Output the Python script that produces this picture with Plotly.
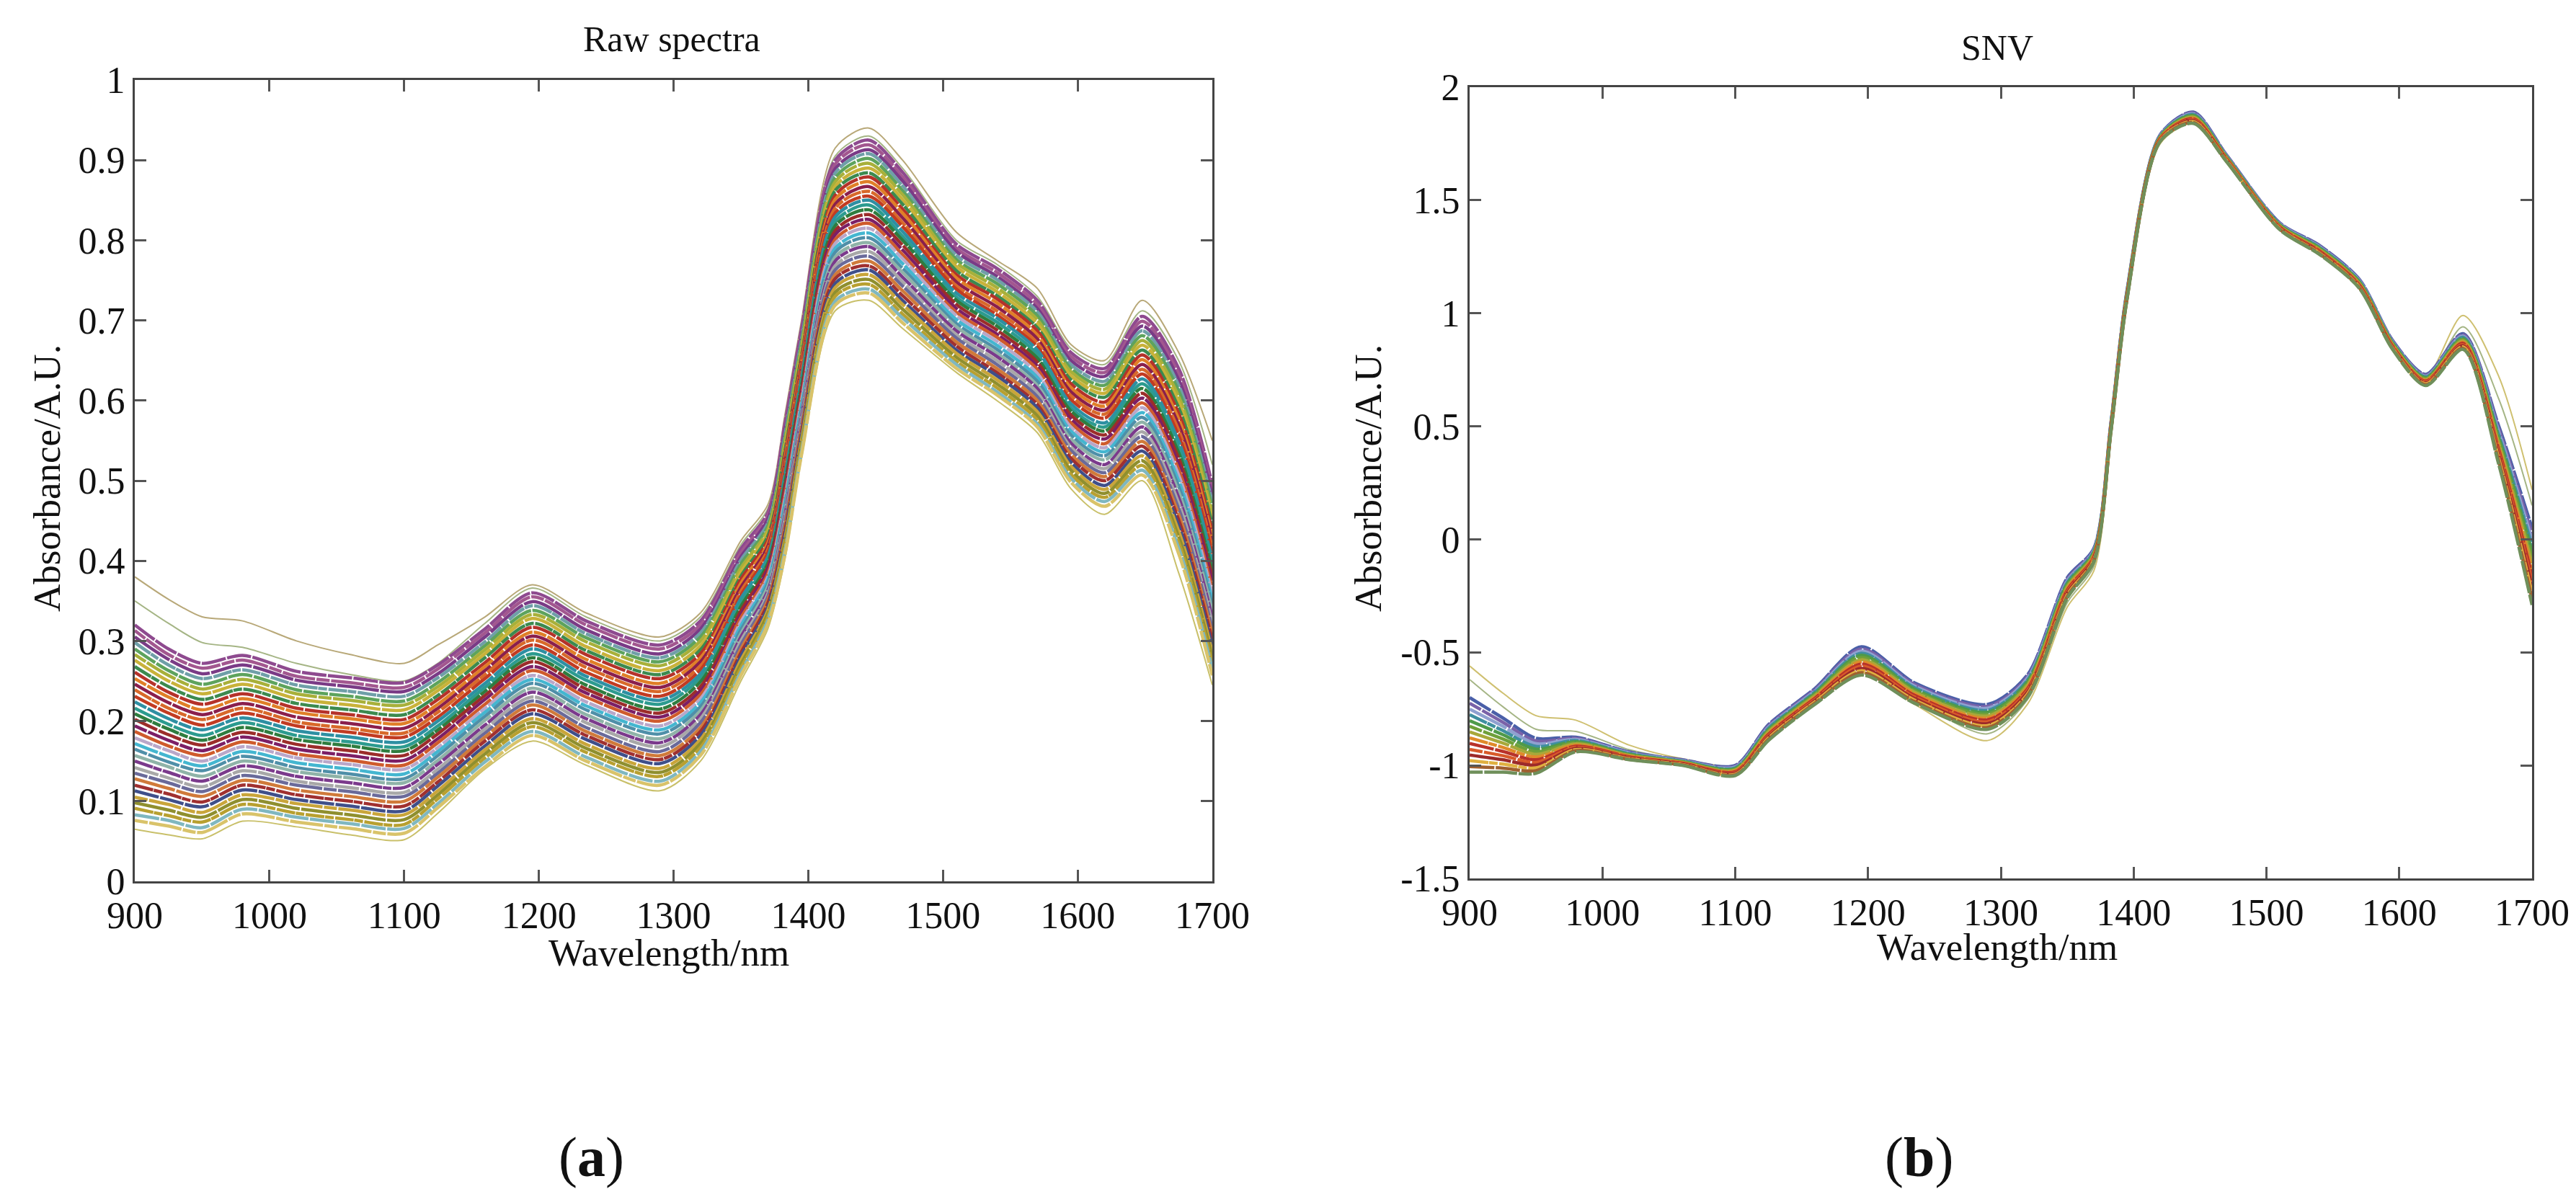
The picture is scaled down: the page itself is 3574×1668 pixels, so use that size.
import plotly.graph_objects as go

# Wavelength knots the curves were read at
wavelength = [900, 925, 950, 980, 1020, 1060, 1100, 1125, 1160, 1195, 1235, 1290, 1320, 1350,
              1370, 1383, 1395, 1420, 1445, 1470, 1510, 1540, 1570, 1595, 1620, 1648, 1675, 1700]

# Raw spectra: the outer curves are read from the picture. Single curves inside the
# dense band can't be told apart, so those rows are estimates spaced across the band.
raw_top1 = [.380, .352, .330, .325, .300, .283, .272, .295, .330, .370, .335, .305, .335, .425, .470, .585, .700, .915, .940, .900, .810, .775, .740, .670, .650, .725, .660, .550]
raw_top2 = [.350, .322, .298, .292, .272, .258, .250, .272, .322, .366, .330, .300, .330, .420, .465, .580, .695, .905, .930, .890, .800, .770, .730, .665, .645, .712, .650, .520]
raw_low1 = [.065, .058, .053, .075, .068, .058, .052, .085, .140, .175, .145, .113, .150, .250, .315, .405, .528, .712, .725, .690, .635, .600, .560, .490, .458, .500, .385, .245]
raw_01 = [.320, .290, .272, .282, .262, .254, .248, .270, .315, .360, .325, .295, .325, .415, .460, .575, .690, .900, .925, .885, .795, .765, .725, .660, .640, .705, .640, .495]
raw_02 = [.313, .283, .266, .276, .256, .248, .242, .265, .310, .355, .320, .290, .320, .410, .456, .570, .685, .895, .919, .879, .790, .760, .720, .655, .635, .699, .633, .488]
raw_03 = [.305, .277, .259, .270, .251, .243, .237, .259, .305, .349, .314, .284, .315, .405, .452, .565, .680, .889, .913, .874, .786, .755, .715, .650, .630, .693, .626, .481]
raw_04 = [.298, .270, .253, .264, .245, .237, .231, .254, .299, .344, .309, .279, .310, .401, .447, .560, .676, .884, .908, .868, .781, .751, .711, .645, .624, .687, .619, .473]
raw_05 = [.290, .263, .246, .258, .239, .231, .225, .248, .294, .338, .304, .274, .305, .396, .443, .555, .671, .878, .902, .862, .776, .746, .706, .640, .619, .681, .612, .466]
raw_06 = [.283, .257, .240, .252, .234, .226, .220, .243, .289, .333, .299, .269, .300, .391, .439, .550, .666, .873, .896, .857, .772, .741, .701, .636, .614, .675, .605, .459]
raw_07 = [.276, .250, .234, .246, .228, .220, .214, .238, .284, .328, .293, .263, .294, .386, .435, .545, .661, .867, .890, .851, .767, .736, .696, .631, .609, .669, .598, .452]
raw_08 = [.268, .243, .227, .240, .222, .214, .208, .232, .279, .322, .288, .258, .289, .381, .431, .540, .656, .862, .884, .845, .762, .731, .691, .626, .604, .663, .591, .445]
raw_09 = [.261, .236, .221, .234, .216, .208, .202, .227, .273, .317, .283, .253, .284, .377, .426, .535, .652, .856, .879, .839, .757, .727, .687, .621, .598, .657, .584, .437]
raw_10 = [.253, .230, .214, .228, .211, .203, .197, .221, .268, .311, .277, .247, .279, .372, .422, .530, .647, .851, .873, .834, .753, .722, .682, .616, .593, .651, .577, .430]
raw_11 = [.246, .223, .208, .222, .205, .197, .191, .216, .263, .306, .272, .242, .274, .367, .418, .525, .642, .845, .867, .828, .748, .717, .677, .611, .588, .645, .570, .423]
raw_12 = [.239, .216, .202, .216, .199, .191, .185, .211, .258, .301, .267, .237, .269, .362, .414, .520, .637, .840, .861, .822, .743, .712, .672, .606, .583, .639, .563, .416]
raw_13 = [.231, .210, .195, .210, .194, .186, .180, .205, .253, .295, .261, .231, .264, .357, .410, .515, .632, .834, .855, .817, .739, .707, .667, .601, .578, .633, .556, .409]
raw_14 = [.224, .203, .189, .204, .188, .180, .174, .200, .247, .290, .256, .226, .259, .353, .405, .510, .628, .829, .850, .811, .734, .703, .663, .596, .572, .627, .549, .401]
raw_15 = [.216, .196, .182, .198, .182, .174, .168, .194, .242, .284, .251, .221, .254, .348, .401, .505, .623, .823, .844, .805, .729, .698, .658, .591, .567, .621, .542, .394]
raw_16 = [.209, .190, .176, .192, .177, .169, .163, .189, .237, .279, .245, .215, .249, .343, .397, .500, .618, .818, .838, .800, .725, .693, .653, .587, .562, .615, .535, .387]
raw_17 = [.202, .183, .170, .186, .171, .163, .157, .184, .232, .274, .240, .210, .243, .338, .393, .495, .613, .812, .832, .794, .720, .688, .648, .582, .557, .609, .528, .380]
raw_18 = [.194, .176, .163, .180, .165, .157, .151, .178, .227, .268, .235, .205, .238, .333, .389, .490, .608, .807, .826, .788, .715, .683, .643, .577, .552, .603, .521, .373]
raw_19 = [.187, .169, .157, .174, .159, .151, .145, .173, .221, .263, .230, .200, .233, .329, .384, .485, .604, .801, .821, .782, .710, .679, .639, .572, .546, .597, .514, .365]
raw_20 = [.179, .163, .150, .168, .154, .146, .140, .167, .216, .257, .224, .194, .228, .324, .380, .480, .599, .796, .815, .777, .706, .674, .634, .567, .541, .591, .507, .358]
raw_21 = [.172, .156, .144, .162, .148, .140, .134, .162, .211, .252, .219, .189, .223, .319, .376, .475, .594, .790, .809, .771, .701, .669, .629, .562, .536, .585, .500, .351]
raw_22 = [.165, .149, .138, .156, .142, .134, .128, .157, .206, .247, .214, .184, .218, .314, .372, .470, .589, .785, .803, .765, .696, .664, .624, .557, .531, .579, .493, .344]
raw_23 = [.157, .143, .131, .150, .137, .129, .123, .151, .201, .241, .208, .178, .213, .309, .368, .465, .584, .779, .797, .760, .692, .659, .619, .552, .526, .573, .486, .337]
raw_24 = [.150, .136, .125, .144, .131, .123, .117, .146, .195, .236, .203, .173, .208, .305, .363, .460, .580, .774, .792, .754, .687, .655, .615, .547, .520, .567, .479, .329]
raw_25 = [.142, .129, .118, .138, .125, .117, .111, .140, .190, .230, .198, .168, .203, .300, .359, .455, .575, .768, .786, .748, .682, .650, .610, .542, .515, .561, .472, .322]
raw_26 = [.135, .123, .112, .132, .120, .112, .106, .135, .185, .225, .192, .162, .198, .295, .355, .450, .570, .763, .780, .743, .678, .645, .605, .538, .510, .555, .465, .315]
raw_27 = [.128, .116, .106, .126, .114, .106, .100, .130, .180, .220, .187, .157, .192, .290, .351, .445, .565, .757, .774, .737, .673, .640, .600, .533, .505, .549, .458, .308]
raw_28 = [.120, .109, .099, .120, .108, .100, .094, .124, .175, .214, .182, .152, .187, .285, .347, .440, .560, .752, .768, .731, .668, .635, .595, .528, .500, .543, .451, .301]
raw_29 = [.113, .102, .093, .114, .102, .094, .088, .119, .169, .209, .177, .147, .182, .281, .342, .435, .556, .746, .763, .725, .663, .631, .591, .523, .494, .537, .444, .293]
raw_30 = [.105, .096, .086, .108, .097, .089, .083, .113, .164, .203, .171, .141, .177, .276, .338, .430, .551, .741, .757, .720, .659, .626, .586, .518, .489, .531, .437, .286]
raw_31 = [.098, .089, .080, .102, .091, .083, .077, .108, .159, .198, .166, .136, .172, .271, .334, .425, .546, .735, .751, .714, .654, .621, .581, .513, .484, .525, .430, .279]
raw_32 = [.091, .082, .074, .096, .085, .077, .071, .103, .154, .193, .161, .131, .167, .266, .330, .420, .541, .730, .745, .708, .649, .616, .576, .508, .479, .519, .423, .272]
raw_33 = [.083, .076, .067, .090, .080, .072, .066, .097, .149, .187, .155, .125, .162, .261, .326, .415, .536, .724, .739, .703, .645, .611, .571, .503, .474, .513, .416, .265]
raw_34 = [.076, .069, .061, .084, .074, .066, .060, .092, .143, .182, .150, .120, .157, .257, .321, .410, .532, .719, .734, .697, .640, .607, .567, .498, .468, .507, .409, .257]

raw_band = [raw_01, raw_02, raw_03, raw_04, raw_05, raw_06, raw_07, raw_08, raw_09, raw_10, raw_11, raw_12,
            raw_13, raw_14, raw_15, raw_16, raw_17, raw_18, raw_19, raw_20, raw_21, raw_22, raw_23, raw_24,
            raw_25, raw_26, raw_27, raw_28, raw_29, raw_30, raw_31, raw_32, raw_33, raw_34]
raw_colors = ["#8e4a8f", "#a2578f", "#7a3b86", "#6f9fa8", "#5da35d", "#a8b03a", "#c9b23a", "#3c8a4f", "#b5322a",
              "#e07f27", "#8a1f4d", "#d8692a", "#c23b22", "#2e8fa3", "#2c9b8f", "#2f7d3f", "#9c2d2a", "#7c1f66",
              "#cf5b2c", "#b9a7c9", "#44b6d0", "#4f8fa8", "#8fb3a8", "#7b3a8c", "#a8a8a8", "#6a6a9a", "#d07a3a",
              "#a03030", "#3f4f8a", "#c9a53a", "#8f8f2f", "#b8a030", "#7fb7c0", "#d9c36a"]

# SNV spectra, same approach
snv_top1 = [-.56, -.68, -.78, -.80, -.91, -.97, -1.0, -.88, -.72, -.59, -.73, -.89, -.73, -.30, -.14, .45, 1.04, 1.75, 1.84, 1.67, 1.37, 1.26, 1.11, .86, .72, .99, .72, .22]
snv_top2 = [-.62, -.74, -.84, -.85, -.93, -.975, -1.0, -.87, -.71, -.57, -.71, -.86, -.71, -.28, -.12, .46, 1.05, 1.76, 1.85, 1.675, 1.375, 1.265, 1.115, .85, .71, .94, .62, .15]
snv_01 = [-.70, -.79, -.88, -.875, -.94, -.975, -1.0, -.82, -.66, -.475, -.635, -.73, -.60, -.17, -.04, .52, 1.10, 1.79, 1.89, 1.70, 1.40, 1.30, 1.15, .88, .73, .91, .50, .05]
snv_02 = [-.725, -.809, -.892, -.88, -.943, -.977, -1.004, -.825, -.665, -.485, -.642, -.739, -.608, -.177, -.045, .517, 1.097, 1.788, 1.886, 1.698, 1.398, 1.297, 1.147, .877, .726, .905, .487, .024]
snv_03 = [-.751, -.827, -.904, -.885, -.945, -.979, -1.007, -.831, -.671, -.494, -.649, -.747, -.615, -.184, -.049, .514, 1.094, 1.785, 1.882, 1.695, 1.395, 1.294, 1.144, .874, .722, .899, .474, -.002]
snv_04 = [-.776, -.846, -.916, -.89, -.948, -.981, -1.011, -.836, -.676, -.504, -.656, -.756, -.623, -.191, -.054, .511, 1.091, 1.783, 1.879, 1.693, 1.393, 1.291, 1.141, .871, .719, .894, .461, -.029]
snv_05 = [-.802, -.864, -.928, -.895, -.951, -.983, -1.014, -.842, -.682, -.513, -.663, -.764, -.631, -.198, -.058, .508, 1.088, 1.781, 1.875, 1.691, 1.391, 1.288, 1.138, .868, .715, .888, .448, -.055]
snv_06 = [-.827, -.883, -.94, -.90, -.954, -.985, -1.018, -.847, -.687, -.523, -.67, -.773, -.639, -.205, -.063, .505, 1.085, 1.779, 1.871, 1.689, 1.389, 1.285, 1.135, .865, .711, .883, .435, -.081]
snv_07 = [-.852, -.901, -.951, -.905, -.956, -.986, -1.021, -.852, -.692, -.533, -.676, -.781, -.646, -.211, -.068, .501, 1.081, 1.776, 1.867, 1.686, 1.386, 1.281, 1.131, .861, .707, .878, .421, -.107]
snv_08 = [-.878, -.92, -.963, -.91, -.959, -.988, -1.024, -.858, -.698, -.542, -.683, -.79, -.654, -.218, -.072, .498, 1.078, 1.774, 1.863, 1.684, 1.384, 1.278, 1.128, .858, .703, .872, .408, -.133]
snv_09 = [-.903, -.938, -.975, -.915, -.962, -.99, -1.028, -.863, -.703, -.552, -.69, -.798, -.662, -.225, -.077, .495, 1.075, 1.772, 1.86, 1.682, 1.382, 1.275, 1.125, .855, .70, .867, .395, -.16]
snv_10 = [-.929, -.957, -.987, -.92, -.964, -.992, -1.032, -.869, -.709, -.561, -.697, -.807, -.669, -.232, -.081, .492, 1.072, 1.769, 1.856, 1.679, 1.379, 1.272, 1.122, .852, .696, .861, .382, -.186]
snv_11 = [-.954, -.975, -.999, -.925, -.967, -.994, -1.035, -.874, -.714, -.571, -.704, -.815, -.677, -.239, -.086, .489, 1.069, 1.767, 1.852, 1.677, 1.377, 1.269, 1.119, .849, .692, .856, .369, -.212]
snv_12 = [-.979, -.994, -1.011, -.93, -.97, -.996, -1.039, -.879, -.719, -.581, -.711, -.824, -.685, -.246, -.091, .486, 1.066, 1.765, 1.848, 1.675, 1.375, 1.266, 1.116, .846, .688, .851, .356, -.238]
snv_13 = [-1.005, -1.012, -1.023, -.935, -.973, -.998, -1.042, -.885, -.725, -.59, -.718, -.832, -.692, -.253, -.095, .483, 1.063, 1.762, 1.844, 1.672, 1.372, 1.263, 1.113, .843, .684, .845, .343, -.264]
snv_14 = [-1.03, -1.03, -1.035, -.94, -.975, -1.0, -1.045, -.89, -.73, -.60, -.725, -.84, -.70, -.26, -.10, .48, 1.06, 1.76, 1.84, 1.67, 1.37, 1.26, 1.11, .84, .68, .84, .33, -.29]

snv_band = [snv_01, snv_02, snv_03, snv_04, snv_05, snv_06, snv_07, snv_08, snv_09, snv_10, snv_11, snv_12, snv_13, snv_14]
snv_colors = ["#4a5fa8", "#7a62a8", "#8fa0d0", "#3f8fa0", "#4f9a4a", "#6fa03a", "#a8a83a", "#e08a2a", "#b8322a",
              "#d85a2a", "#9c2a2a", "#e0b040", "#a06030", "#6f8f5a"]

# Axis ticks
x_ticks = [900, 1000, 1100, 1200, 1300, 1400, 1500, 1600, 1700]
raw_ticks = [0, .1, .2, .3, .4, .5, .6, .7, .8, .9, 1]
raw_ticktext = ["0", "0.1", "0.2", "0.3", "0.4", "0.5", "0.6", "0.7", "0.8", "0.9", "1"]
snv_ticks = [-1.5, -1, -.5, 0, .5, 1, 1.5, 2]
snv_ticktext = ["-1.5", "-1", "-0.5", "0", "0.5", "1", "1.5", "2"]

W, H = 3574, 1668
FONT = "Liberation Serif"
TICK_SIZE = 52
INK = '#111111'
# slightly broken strokes, the reference lines look speckled where they overlap
dashes = ["34px,2px", "18px,2px,46px,2px", "58px,2px", "26px,1px,12px,2px"]

fig = go.Figure()


def add_curve(y, color, width, xa, ya, dash='solid'):
    fig.add_trace(go.Scatter(
        x=wavelength, y=y, xaxis=xa, yaxis=ya, mode='lines',
        line=dict(color=color, width=width, shape='spline', smoothing=0.8, dash=dash),
        showlegend=False, hoverinfo='skip'
    ))


# Raw panel
add_curve(raw_top1, "#b8a878", 2, 'x', 'y')
add_curve(raw_top2, "#a5b585", 2, 'x', 'y')
add_curve(raw_low1, "#c9c06a", 2, 'x', 'y')
for i, (y, c) in enumerate(zip(raw_band, raw_colors)):
    add_curve(y, c, 4.5, 'x', 'y', dashes[i % 4])

# SNV panel
add_curve(snv_top1, "#cfc070", 2, 'x2', 'y2')
add_curve(snv_top2, "#a5b585", 2, 'x2', 'y2')
for i, (y, c) in enumerate(zip(snv_band, snv_colors)):
    add_curve(y, c, 4.5, 'x2', 'y2', dashes[i % 4])

axis_style = dict(
    showgrid=False, zeroline=False, ticks='inside', ticklen=16, tickwidth=3, tickcolor='#555555',
    showline=True, linewidth=3, linecolor='#444444', mirror='ticks', automargin=False,
    tickfont=dict(family=FONT, size=TICK_SIZE, color=INK),
)


def label(text, x, y, size=53, angle=0):
    return dict(text=text, x=x / W, y=1 - y / H, xref='paper', yref='paper', showarrow=False,
                xanchor='center', yanchor='middle', textangle=angle,
                font=dict(family=FONT, size=size, color=INK))


fig.update_layout(
    width=W, height=H, autosize=False,
    margin=dict(l=0, r=0, t=0, b=0),
    paper_bgcolor='white', plot_bgcolor='white',
    showlegend=False,
    xaxis=dict(domain=[179 / W, 1674 / W], range=[900, 1700], tickvals=x_ticks, anchor='y', **axis_style),
    yaxis=dict(domain=[1 - 1215 / H, 1 - 103 / H], range=[0, 1], tickvals=raw_ticks, ticktext=raw_ticktext,
               anchor='x', **axis_style),
    xaxis2=dict(domain=[2031 / W, 3505 / W], range=[900, 1700], tickvals=x_ticks, anchor='y2', **axis_style),
    yaxis2=dict(domain=[1 - 1211 / H, 1 - 113 / H], range=[-1.5, 2], tickvals=snv_ticks, ticktext=snv_ticktext,
                anchor='x2', **axis_style),
    annotations=[
        label("Raw spectra", 924, 46, 50),
        label("SNV", 2763, 58, 50),
        label("Wavelength/nm", 920, 1314),
        label("Wavelength/nm", 2763, 1306),
        label("Absorbance/A.U.", 57, 656, angle=-90),
        label("Absorbance/A.U.", 1890, 656, angle=-90),
        label("(<b>a</b>)", 812, 1597, 78),
        label("(<b>b</b>)", 2654, 1597, 78),
    ],
)

fig.write_html("out.html")
